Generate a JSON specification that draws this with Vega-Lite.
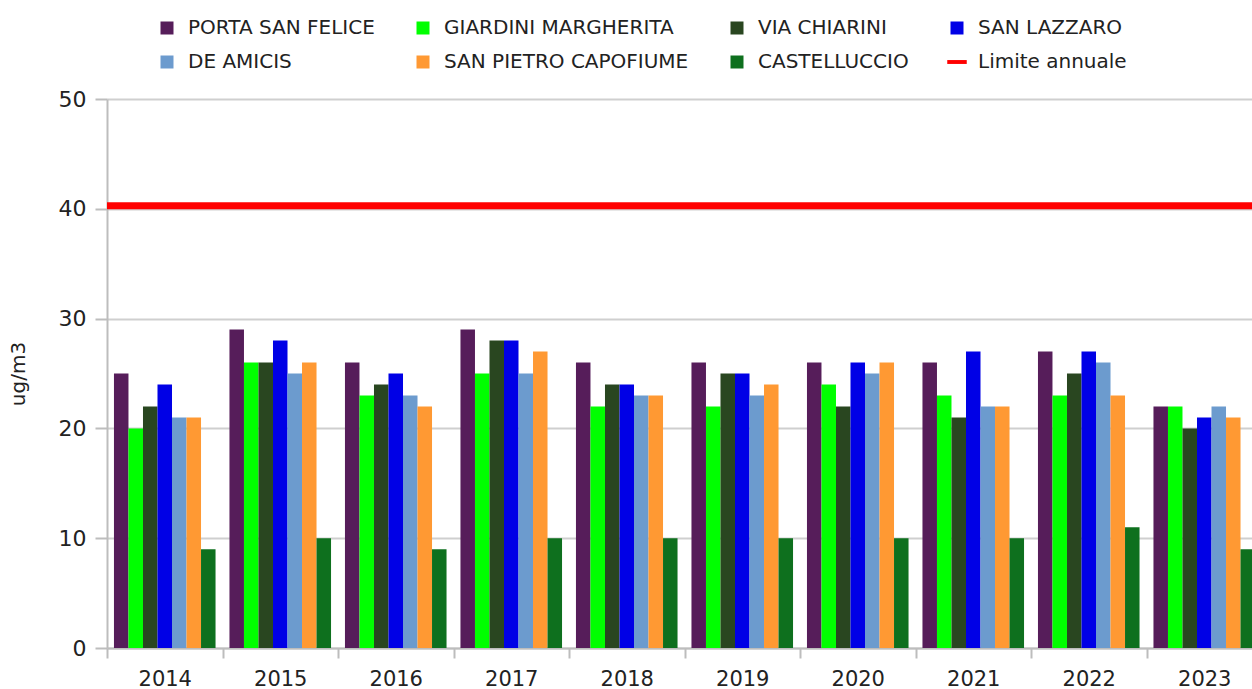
{
  "$schema": "https://vega.github.io/schema/vega-lite/v6.json",
  "autosize": "none",
  "width": 1145,
  "height": 549,
  "padding": {"left": 107, "top": 99, "right": 0, "bottom": 41},
  "background": "white",
  "config": {
    "view": {"stroke": null},
    "font": "DejaVu Sans"
  },
  "datasets": {
    "pm": [
      {"anno": "2014", "stazione": "PORTA SAN FELICE", "valore": 25},
      {"anno": "2014", "stazione": "GIARDINI MARGHERITA", "valore": 20},
      {"anno": "2014", "stazione": "VIA CHIARINI", "valore": 22},
      {"anno": "2014", "stazione": "SAN LAZZARO", "valore": 24},
      {"anno": "2014", "stazione": "DE AMICIS", "valore": 21},
      {"anno": "2014", "stazione": "SAN PIETRO CAPOFIUME", "valore": 21},
      {"anno": "2014", "stazione": "CASTELLUCCIO", "valore": 9},
      {"anno": "2015", "stazione": "PORTA SAN FELICE", "valore": 29},
      {"anno": "2015", "stazione": "GIARDINI MARGHERITA", "valore": 26},
      {"anno": "2015", "stazione": "VIA CHIARINI", "valore": 26},
      {"anno": "2015", "stazione": "SAN LAZZARO", "valore": 28},
      {"anno": "2015", "stazione": "DE AMICIS", "valore": 25},
      {"anno": "2015", "stazione": "SAN PIETRO CAPOFIUME", "valore": 26},
      {"anno": "2015", "stazione": "CASTELLUCCIO", "valore": 10},
      {"anno": "2016", "stazione": "PORTA SAN FELICE", "valore": 26},
      {"anno": "2016", "stazione": "GIARDINI MARGHERITA", "valore": 23},
      {"anno": "2016", "stazione": "VIA CHIARINI", "valore": 24},
      {"anno": "2016", "stazione": "SAN LAZZARO", "valore": 25},
      {"anno": "2016", "stazione": "DE AMICIS", "valore": 23},
      {"anno": "2016", "stazione": "SAN PIETRO CAPOFIUME", "valore": 22},
      {"anno": "2016", "stazione": "CASTELLUCCIO", "valore": 9},
      {"anno": "2017", "stazione": "PORTA SAN FELICE", "valore": 29},
      {"anno": "2017", "stazione": "GIARDINI MARGHERITA", "valore": 25},
      {"anno": "2017", "stazione": "VIA CHIARINI", "valore": 28},
      {"anno": "2017", "stazione": "SAN LAZZARO", "valore": 28},
      {"anno": "2017", "stazione": "DE AMICIS", "valore": 25},
      {"anno": "2017", "stazione": "SAN PIETRO CAPOFIUME", "valore": 27},
      {"anno": "2017", "stazione": "CASTELLUCCIO", "valore": 10},
      {"anno": "2018", "stazione": "PORTA SAN FELICE", "valore": 26},
      {"anno": "2018", "stazione": "GIARDINI MARGHERITA", "valore": 22},
      {"anno": "2018", "stazione": "VIA CHIARINI", "valore": 24},
      {"anno": "2018", "stazione": "SAN LAZZARO", "valore": 24},
      {"anno": "2018", "stazione": "DE AMICIS", "valore": 23},
      {"anno": "2018", "stazione": "SAN PIETRO CAPOFIUME", "valore": 23},
      {"anno": "2018", "stazione": "CASTELLUCCIO", "valore": 10},
      {"anno": "2019", "stazione": "PORTA SAN FELICE", "valore": 26},
      {"anno": "2019", "stazione": "GIARDINI MARGHERITA", "valore": 22},
      {"anno": "2019", "stazione": "VIA CHIARINI", "valore": 25},
      {"anno": "2019", "stazione": "SAN LAZZARO", "valore": 25},
      {"anno": "2019", "stazione": "DE AMICIS", "valore": 23},
      {"anno": "2019", "stazione": "SAN PIETRO CAPOFIUME", "valore": 24},
      {"anno": "2019", "stazione": "CASTELLUCCIO", "valore": 10},
      {"anno": "2020", "stazione": "PORTA SAN FELICE", "valore": 26},
      {"anno": "2020", "stazione": "GIARDINI MARGHERITA", "valore": 24},
      {"anno": "2020", "stazione": "VIA CHIARINI", "valore": 22},
      {"anno": "2020", "stazione": "SAN LAZZARO", "valore": 26},
      {"anno": "2020", "stazione": "DE AMICIS", "valore": 25},
      {"anno": "2020", "stazione": "SAN PIETRO CAPOFIUME", "valore": 26},
      {"anno": "2020", "stazione": "CASTELLUCCIO", "valore": 10},
      {"anno": "2021", "stazione": "PORTA SAN FELICE", "valore": 26},
      {"anno": "2021", "stazione": "GIARDINI MARGHERITA", "valore": 23},
      {"anno": "2021", "stazione": "VIA CHIARINI", "valore": 21},
      {"anno": "2021", "stazione": "SAN LAZZARO", "valore": 27},
      {"anno": "2021", "stazione": "DE AMICIS", "valore": 22},
      {"anno": "2021", "stazione": "SAN PIETRO CAPOFIUME", "valore": 22},
      {"anno": "2021", "stazione": "CASTELLUCCIO", "valore": 10},
      {"anno": "2022", "stazione": "PORTA SAN FELICE", "valore": 27},
      {"anno": "2022", "stazione": "GIARDINI MARGHERITA", "valore": 23},
      {"anno": "2022", "stazione": "VIA CHIARINI", "valore": 25},
      {"anno": "2022", "stazione": "SAN LAZZARO", "valore": 27},
      {"anno": "2022", "stazione": "DE AMICIS", "valore": 26},
      {"anno": "2022", "stazione": "SAN PIETRO CAPOFIUME", "valore": 23},
      {"anno": "2022", "stazione": "CASTELLUCCIO", "valore": 11},
      {"anno": "2023", "stazione": "PORTA SAN FELICE", "valore": 22},
      {"anno": "2023", "stazione": "GIARDINI MARGHERITA", "valore": 22},
      {"anno": "2023", "stazione": "VIA CHIARINI", "valore": 20},
      {"anno": "2023", "stazione": "SAN LAZZARO", "valore": 21},
      {"anno": "2023", "stazione": "DE AMICIS", "valore": 22},
      {"anno": "2023", "stazione": "SAN PIETRO CAPOFIUME", "valore": 21},
      {"anno": "2023", "stazione": "CASTELLUCCIO", "valore": 9}
    ],
    "limite": [{"nome": "Limite annuale", "valore": 40}]
  },
  "layer": [
    {
      "data": {"name": "pm"},
      "mark": {"type": "bar", "clip": true},
      "encoding": {
        "x": {
          "field": "anno",
          "type": "nominal",
          "scale": {"range": [0, 1155], "paddingInner": 0, "paddingOuter": 0},
          "axis": {
            "title": null,
            "labelAngle": 0,
            "labelFont": "DejaVu Sans",
            "labelFontSize": 21,
            "labelColor": "#222",
            "labelPadding": 10,
            "domainColor": "#bdbdbd",
            "domainWidth": 2,
            "tickColor": "#bdbdbd",
            "tickWidth": 2,
            "tickSize": 10,
            "tickBand": "extent",
            "grid": false
          }
        },
        "xOffset": {
          "field": "stazione",
          "type": "nominal",
          "sort": ["PORTA SAN FELICE", "GIARDINI MARGHERITA", "VIA CHIARINI", "SAN LAZZARO", "DE AMICIS", "SAN PIETRO CAPOFIUME", "CASTELLUCCIO"],
          "scale": {"paddingInner": 0, "paddingOuter": 0.48}
        },
        "y": {
          "field": "valore",
          "type": "quantitative",
          "scale": {"domain": [0, 50], "nice": false},
          "axis": {
            "title": "ug/m3",
            "titleFont": "DejaVu Sans",
            "titleFontSize": 20,
            "titleFontWeight": "normal",
            "titleColor": "#222",
            "titlePadding": 30,
            "values": [0, 10, 20, 30, 40, 50],
            "labelFont": "DejaVu Sans",
            "labelFontSize": 22,
            "labelFontWeight": "normal",
            "labelColor": "#222",
            "labelPadding": 9,
            "domainColor": "#bdbdbd",
            "domainWidth": 2,
            "tickColor": "#bdbdbd",
            "tickWidth": 2,
            "tickSize": 12,
            "grid": true,
            "gridColor": "#cfcfcf",
            "gridWidth": 2
          }
        },
        "color": {
          "field": "stazione",
          "type": "nominal",
          "scale": {
            "domain": ["PORTA SAN FELICE", "GIARDINI MARGHERITA", "VIA CHIARINI", "SAN LAZZARO", "DE AMICIS", "SAN PIETRO CAPOFIUME", "CASTELLUCCIO", "Limite annuale"],
            "range": ["#561d5a", "#00ff00", "#294620", "#0000e6", "#6c9bce", "#ff9933", "#0e701e", "#ff0000"]
          },
          "legend": {
            "title": null,
            "orient": "none",
            "direction": "horizontal",
            "legendX": 50,
            "legendY": -81,
            "columns": 4,
            "columnPadding": 38,
            "rowPadding": 14,
            "symbolType": "square",
            "symbolSize": 169,
            "symbolOpacity": 1,
            "symbolStrokeWidth": 0,
            "labelFont": "DejaVu Sans",
            "labelFontSize": 20,
            "labelColor": "#222",
            "labelLimit": 400,
            "labelOffset": 11,
            "encode": {
              "symbols": {
                "update": {
                  "shape": {"signal": "datum.value === 'Limite annuale' ? 'M-1.5,-0.3H1.5V0.3H-1.5Z' : 'square'"}
                }
              }
            }
          }
        }
      }
    },
    {
      "data": {"name": "limite"},
      "mark": {"type": "rule", "color": "#ff0000", "strokeWidth": 7, "yOffset": -3},
      "encoding": {
        "y": {"field": "valore", "type": "quantitative"}
      }
    }
  ]
}
